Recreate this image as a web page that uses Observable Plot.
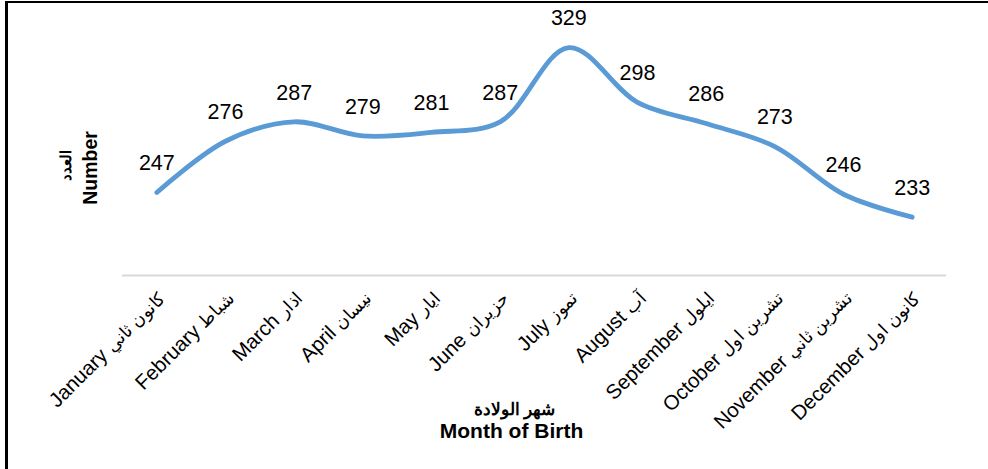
<!DOCTYPE html>
<html>
<head>
<meta charset="utf-8">
<script src="https://cdn.jsdelivr.net/npm/d3@7"></script>
<script src="https://cdn.jsdelivr.net/npm/@observablehq/plot@0.6"></script>
<style>
  html, body { margin: 0; padding: 0; background: #fff; }
  #wrap { position: relative; width: 988px; height: 469px; overflow: hidden; }
  #borderLeft { position: absolute; left: 5px; top: 1px; width: 3px; height: 468px; background: #000; }
  #borderTop { position: absolute; left: 5px; top: 1px; width: 983px; height: 2px; background: #000; }
  svg { display: block; }
</style>
</head>
<body>
<div id="wrap">
  <div id="chart"></div>
  <div id="borderLeft"></div>
  <div id="borderTop"></div>
</div>
<script>
const monthsEn = ["January","February","March","April","May","June","July","August","September","October","November","December"];
const monthsAr = ["كانون ثاني","شباط","اذار","نيسان","ايار","حزيران","تموز","آب","ايلول","تشرين اول","تشرين ثاني","كانون اول"];
const counts = [247,276,287,279,281,287,329,298,286,273,246,233];
const yTitleAr = "العدد";
const yTitleEn = "Number";
const xTitleAr = "شهر الولادة";
const xTitleEn = "Month of Birth";

const labels = monthsEn.map((m, i) => `${m} ${monthsAr[i]}`);
const data = counts.map((v, i) => ({label: labels[i], value: v}));

const font = "Arial, 'Liberation Sans', sans-serif";

const chart = Plot.plot({
  width: 988,
  height: 469,
  marginLeft: 122,
  marginRight: 42,
  marginTop: 10,
  marginBottom: 194,
  style: {fontFamily: font, background: "transparent", color: "#000"},
  x: {type: "point", domain: labels, padding: 0.5, round: false, axis: null},
  y: {domain: [200, 350], axis: null},
  marks: [
    Plot.ruleY([200], {stroke: "#d9d9d9", strokeWidth: 2}),
    Plot.line(data, {x: "label", y: "value", curve: "catmull-rom", stroke: "#5B9BD5", strokeWidth: 4.8, strokeLinecap: "round", strokeLinejoin: "round"}),
    Plot.text(data, {x: "label", y: "value", text: d => String(d.value), dy: -29, fontSize: 21.5, fill: "#000"}),
    Plot.axisX({tickSize: 0, tickPadding: 8, tickRotate: -45, fontSize: 20.5, label: null, fill: "#000", dx: 5, dy: 11}),
    Plot.text([yTitleAr], {frameAnchor: "left", textAnchor: "middle", dx: -56, dy: 22, rotate: -90, text: d => d, fontSize: 15, fontWeight: "bold", fill: "#000"}),
    Plot.text([yTitleEn], {frameAnchor: "left", textAnchor: "middle", dx: -32, dy: 25, rotate: -90, text: d => d, fontSize: 19.5, fontWeight: "bold", fill: "#000"}),
    Plot.text([xTitleAr], {frameAnchor: "bottom", dx: -20, dy: 139, text: d => d, fontSize: 17, fontWeight: "bold", fill: "#000"}),
    Plot.text([xTitleEn], {frameAnchor: "bottom", dx: -23, dy: 162, text: d => d, fontSize: 21, fontWeight: "bold", fill: "#000"})
  ]
});

// Split each tick label into an English part and a smaller Arabic part
const ns = "http://www.w3.org/2000/svg";
chart.querySelectorAll('g[aria-label="x-axis tick label"] text').forEach(t => {
  const full = t.textContent;
  const i = labels.indexOf(full);
  if (i < 0) return;
  t.textContent = "";
  const en = document.createElementNS(ns, "tspan");
  en.textContent = monthsEn[i] + " ";
  en.setAttribute("font-size", "20.5");
  const ar = document.createElementNS(ns, "tspan");
  ar.textContent = monthsAr[i];
  ar.setAttribute("font-size", "17.5");
  t.appendChild(en);
  t.appendChild(ar);
});

document.getElementById("chart").appendChild(chart);
</script>
</body>
</html>
